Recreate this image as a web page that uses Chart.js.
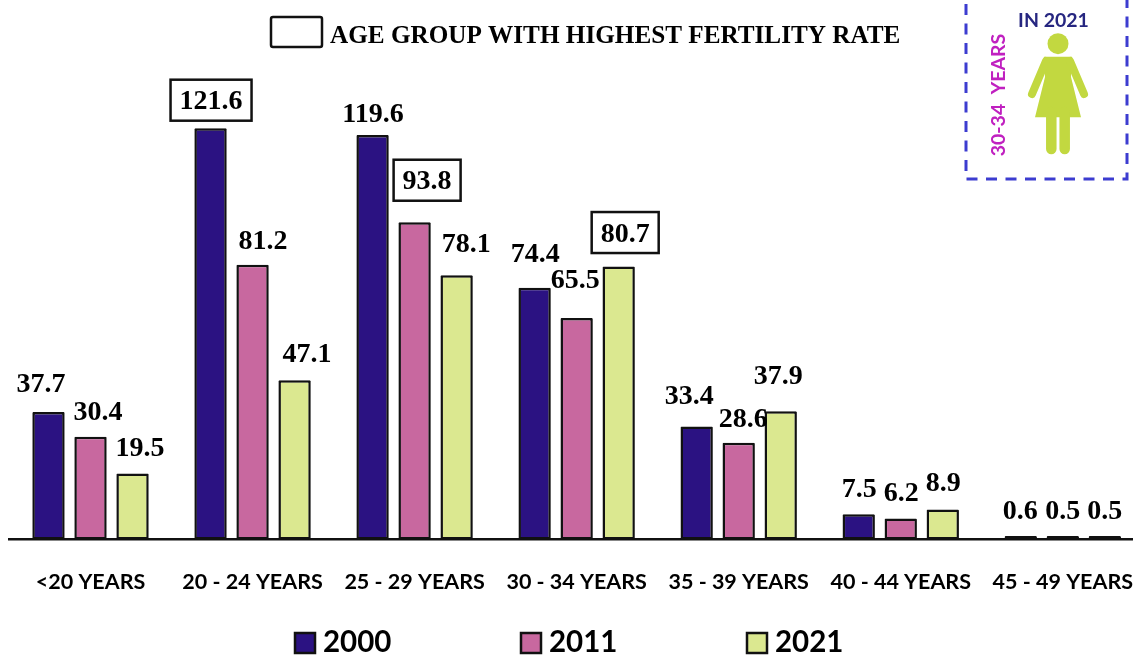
<!DOCTYPE html>
<html>
<head>
<meta charset="utf-8">
<title>Age group fertility rate</title>
<script src="https://cdn.jsdelivr.net/npm/chart.js@4/dist/chart.umd.min.js"></script>
<style>
    html, body { margin: 0; padding: 0; background: #fff; width: 1133px; height: 655px; overflow: hidden; }
    #chart-canvas { display: block; }
</style>
</head>
<body>
<canvas id="chart-canvas" width="1163" height="655"></canvas>
<script>
// --- DATA ---
const categories = ['<20 YEARS', '20 - 24 YEARS', '25 - 29 YEARS', '30 - 34 YEARS', '35 - 39 YEARS', '40 - 44 YEARS', '45 - 49 YEARS'];
const seriesNames = ['2000', '2011', '2021'];
const values2000 = [37.7, 121.6, 119.6, 74.4, 33.4, 7.5, 0.6];
const values2011 = [30.4, 81.2, 93.8, 65.5, 28.6, 6.2, 0.5];
const values2021 = [19.5, 47.1, 78.1, 80.7, 37.9, 8.9, 0.5];
const titleText = 'AGE GROUP WITH HIGHEST FERTILITY RATE';
const insetTop = 'IN 2021';
const insetSide = '30-34  YEARS';

// --- STYLE ---
const SERIF = '"Liberation Serif", serif';
const SANS = 'Lato, sans-serif';
const INK = '#111';
const seriesColors = ['#2b1282', '#c8689f', '#dbe890'];

// label nudges from the top of each bar, the source places them by hand
const labelShift = [
    { dx: [-7.5, 0.5, 0.5, 0.5, -7.5, 0.5, -0.5], dy: [-29, -28, -22, -35, -32, -26, -26] },
    { dx: [7.5, 10.5, 12.5, -1.5, 4.5, 0.5, 0], dy: [-26, -25, -42, -39, -25, -27, -26] },
    { dx: [7.5, 12.5, 9.5, 6.5, -2.5, 0.5, 0], dy: [-27, -27, -33, -34, -37, -28, -26] }
];
// which category gets a box, per series
const boxedCategory = [1, 2, 3];

function valueLabels(chart) {
    const ctx = chart.ctx;
    ctx.save();
    ctx.font = 'bold 28px ' + SERIF;
    ctx.textAlign = 'center';
    ctx.textBaseline = 'middle';
    chart.data.datasets.forEach((ds, s) => {
        chart.getDatasetMeta(s).data.forEach((bar, i) => {
            const x = bar.x + labelShift[s].dx[i];
            const y = bar.y + labelShift[s].dy[i];
            const text = ds.data[i].toFixed(1);
            if (boxedCategory[s] === i) {
                const w = ctx.measureText(text).width + 18;
                ctx.lineWidth = 2.5;
                ctx.strokeStyle = INK;
                ctx.strokeRect(x - w / 2, y - 20.5, w, 41);
            }
            ctx.fillStyle = '#000';
            ctx.fillText(text, x, y + 2);
        });
    });
    ctx.restore();
}

function titleKey(ctx) {
    ctx.save();
    ctx.lineWidth = 2.5;
    ctx.strokeStyle = INK;
    ctx.beginPath();
    ctx.roundRect(271, 17, 51, 30, 2);
    ctx.stroke();
    ctx.fillStyle = '#000';
    ctx.font = 'bold 25.2px ' + SERIF;
    ctx.textAlign = 'left';
    ctx.textBaseline = 'middle';
    ctx.fillText(titleText, 330, 36.5);
    ctx.restore();
}

function bottomLegend(chart) {
    const ctx = chart.ctx;
    const slots = [295, 521, 747];
    ctx.save();
    ctx.font = 'bold 29.5px ' + SANS;
    ctx.textAlign = 'left';
    ctx.textBaseline = 'middle';
    chart.data.datasets.forEach((ds, s) => {
        ctx.fillStyle = ds.backgroundColor;
        ctx.fillRect(slots[s], 633, 20, 20);
        ctx.lineWidth = 2.5;
        ctx.strokeStyle = INK;
        ctx.strokeRect(slots[s], 633, 20, 20);
        ctx.fillStyle = '#000';
        ctx.fillText(ds.label, slots[s] + 28, 642);
    });
    ctx.restore();
}

function womanFigure(ctx) {
    ctx.save();
    ctx.fillStyle = '#c2d840';
    ctx.strokeStyle = '#c2d840';
    ctx.beginPath();
    ctx.arc(1058, 43.7, 10.5, 0, Math.PI * 2);
    ctx.fill();
    // dress
    ctx.beginPath();
    ctx.moveTo(1044, 56.7);
    ctx.lineTo(1072, 56.7);
    ctx.lineTo(1071, 77);
    ctx.lineTo(1081, 117.3);
    ctx.lineTo(1035, 117.3);
    ctx.lineTo(1045, 77);
    ctx.closePath();
    ctx.fill();
    // arms
    ctx.lineWidth = 8;
    ctx.lineCap = 'round';
    ctx.beginPath();
    ctx.moveTo(1046, 61);
    ctx.lineTo(1032, 94);
    ctx.moveTo(1070, 61);
    ctx.lineTo(1084, 94);
    ctx.stroke();
    // legs
    ctx.lineWidth = 10.5;
    ctx.beginPath();
    ctx.moveTo(1051.3, 112);
    ctx.lineTo(1051.3, 149);
    ctx.moveTo(1064.7, 112);
    ctx.lineTo(1064.7, 149);
    ctx.stroke();
    ctx.restore();
}

function insetBox(ctx) {
    ctx.save();
    ctx.strokeStyle = '#3c3cd0';
    ctx.lineWidth = 3;
    ctx.setLineDash([11, 8.5]);
    ctx.beginPath();
    ctx.moveTo(966, 4);
    ctx.lineTo(966, 179);
    ctx.lineTo(1127, 179);
    ctx.lineTo(1127, -2);
    ctx.stroke();
    ctx.setLineDash([]);
    ctx.textAlign = 'center';
    ctx.textBaseline = 'middle';
    ctx.fillStyle = '#262680';
    ctx.font = 'bold 19.5px ' + SANS;
    ctx.fillText(insetTop, 1053.5, 21);
    ctx.translate(998.5, 95);
    ctx.rotate(-Math.PI / 2);
    ctx.fillStyle = '#c020c0';
    ctx.font = 'bold 19.5px ' + SANS;
    ctx.fillText(insetSide, 0, 0);
    ctx.restore();
    womanFigure(ctx);
}

const annotations = {
    id: 'annotations',
    afterDatasetsDraw(chart) {
        valueLabels(chart);
        titleKey(chart.ctx);
        bottomLegend(chart);
        insetBox(chart.ctx);
    }
};

new Chart(document.getElementById('chart-canvas').getContext('2d'), {
    type: 'bar',
    data: {
        labels: categories,
        datasets: [values2000, values2011, values2021].map((vals, s) => ({
            label: seriesNames[s],
            data: vals,
            backgroundColor: seriesColors[s],
            borderColor: INK,
            borderWidth: 2.5,
            borderSkipped: false,
            borderRadius: 1,
            minBarLength: 3.5
        }))
    },
    options: {
        responsive: false,
        animation: false,
        devicePixelRatio: 1,
        categoryPercentage: 0.778,
        barPercentage: 0.77,
        layout: { padding: { left: 9.5, right: 0, top: 0, bottom: 0 } },
        plugins: {
            legend: { display: false },
            tooltip: { enabled: false }
        },
        scales: {
            x: {
                grid: { display: false, drawTicks: false },
                border: { color: INK, width: 2.5 },
                ticks: {
                    color: '#000',
                    font: { family: SANS, weight: 'bold', size: 21.5 },
                    padding: 30,
                    maxRotation: 0,
                    autoSkip: false
                },
                afterFit(scale) { scale.height = 115.5; }
            },
            y: { display: false, min: 0, max: 159.5 }
        }
    },
    plugins: [annotations]
});
</script>
</body>
</html>
